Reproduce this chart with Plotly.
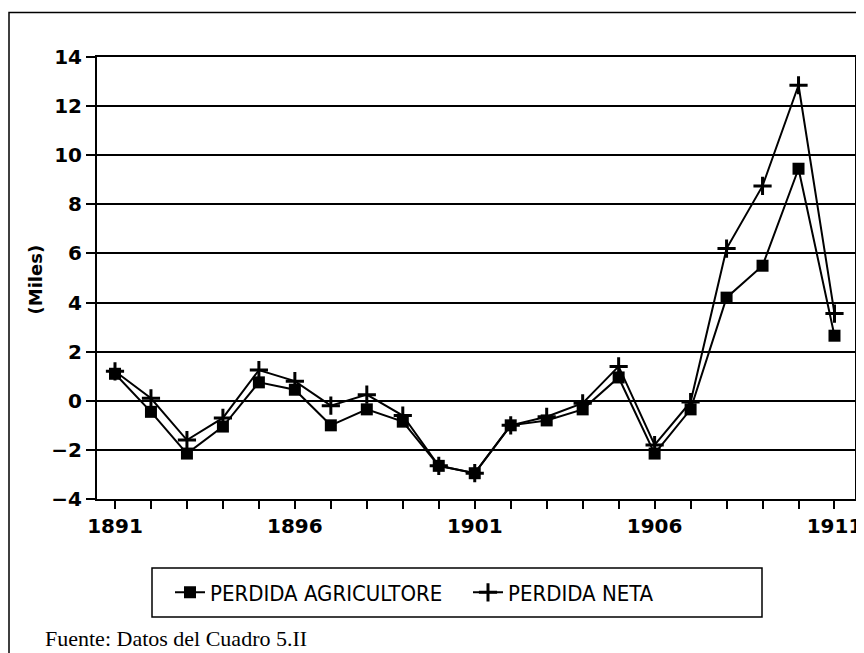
import plotly.graph_objects as go

years = list(range(1891, 1912))
tick_labels = [str(y) if (y - 1891) % 5 == 0 else "" for y in years]
perdida_agricultore = [1.1, -0.45, -2.15, -1.05, 0.75, 0.45, -1.0, -0.35, -0.85, -2.65, -2.95,
                       -1.0, -0.8, -0.35, 0.95, -2.15, -0.35, 4.2, 5.5, 9.45, 2.65]
perdida_neta = [1.2, 0.1, -1.6, -0.7, 1.25, 0.8, -0.2, 0.25, -0.6, -2.65, -2.95,
                -1.0, -0.65, -0.1, 1.4, -1.8, -0.05, 6.2, 8.75, 12.85, 3.55]
y_ticks = [-4, -2, 0, 2, 4, 6, 8, 10, 12, 14]

# page body has an 8px margin: work in screen pixels and shift
O = 8
SW, SH = 864, 653
W, H = SW - O, SH - O
L, R, T, B = 97, 855, 57, 499          # plot area in screen pixels
pw, ph = R - L, B - T

def px_x(px):
    return (px - L) / pw

def px_y(py):
    return (B - py) / ph

fig = go.Figure()
# neta drawn first so the squares sit on top of it
fig.add_trace(go.Scatter(
    x=years, y=perdida_neta, mode="lines+markers", name="PERDIDA NETA", legendrank=2,
    line=dict(color="black", width=2),
    marker=dict(symbol="cross-thin", size=13, color="black", line=dict(width=3, color="black")),
))
fig.add_trace(go.Scatter(
    x=years, y=perdida_agricultore, mode="lines+markers", name="PERDIDA AGRICULTORE", legendrank=1,
    line=dict(color="black", width=2),
    marker=dict(symbol="square", size=12, color="black", line=dict(width=0)),
))

tick_font = dict(family="DejaVu Sans, sans-serif", size=20, color="black", weight="bold")

fig.update_xaxes(
    range=[1890.5, 1911.57], tickvals=years, ticktext=tick_labels,
    ticks="outside", ticklen=8, tickwidth=1.5, tickcolor="black",
    showline=True, linecolor="black", linewidth=2, mirror=True,
    showgrid=False, zeroline=False, tickfont=tick_font,
)
fig.update_yaxes(
    range=[-4, 14], tickvals=y_ticks,
    ticks="outside", ticklen=9, tickwidth=1.5, tickcolor="black",
    showline=True, linecolor="black", linewidth=2, mirror=True,
    showgrid=True, gridcolor="black", gridwidth=1.6,
    zeroline=True, zerolinecolor="black", zerolinewidth=1.6,
    tickfont=tick_font,
)

# outer frame
fig.add_shape(type="rect", xref="paper", yref="paper",
              x0=px_x(9), x1=px_x(900), y0=px_y(700), y1=px_y(12.5),
              line=dict(color="black", width=1.5), layer="below")
# legend box
fig.add_shape(type="rect", xref="paper", yref="paper",
              x0=px_x(152), x1=px_x(762), y0=px_y(617), y1=px_y(568),
              line=dict(color="black", width=1.5))

fig.add_annotation(text="(Miles)", xref="paper", yref="paper",
                   x=px_x(34.5), y=px_y(280), textangle=-90, showarrow=False,
                   xanchor="center", yanchor="middle",
                   font=dict(family="DejaVu Sans, sans-serif", size=18, color="black", weight="bold"))
fig.add_annotation(text="Fuente: Datos del Cuadro 5.II", xref="paper", yref="paper",
                   x=px_x(43), y=px_y(624), showarrow=False, xanchor="left", yanchor="top",
                   font=dict(family="Liberation Serif, Times New Roman, serif", size=22, color="black"))

fig.update_layout(
    width=W, height=H,
    margin=dict(l=L - O, r=SW - R, t=T - O, b=SH - B, autoexpand=False),
    paper_bgcolor="white", plot_bgcolor="white",
    showlegend=True,
    legend=dict(orientation="h", x=px_x(170), y=px_y(592.5), xanchor="left", yanchor="middle",
                bgcolor="rgba(0,0,0,0)", borderwidth=0,
                entrywidth=253, entrywidthmode="pixels",
                font=dict(family="Liberation Sans Narrow, DejaVu Sans Condensed, Arial Narrow, sans-serif",
                          size=22, color="black")),
)

fig.write_html("out.html")
